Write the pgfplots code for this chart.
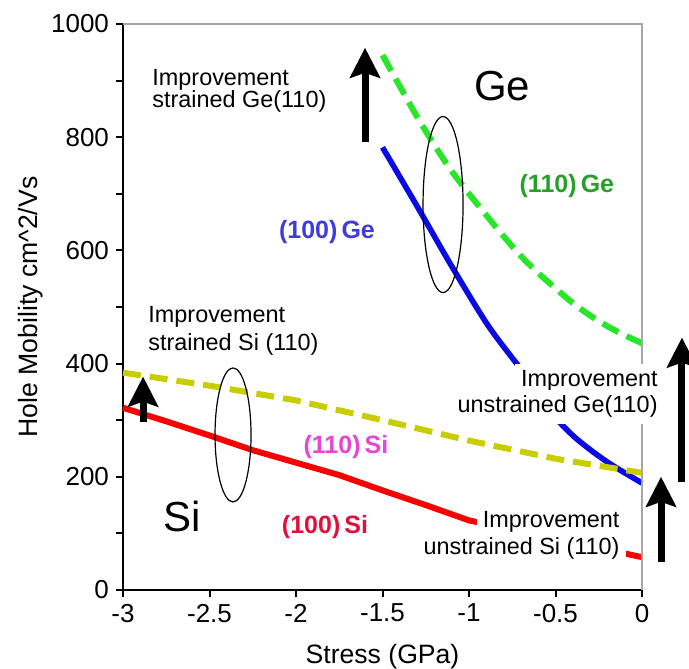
\documentclass[border=0pt]{standalone}
\usepackage{fontspec}
\setmainfont{Liberation Sans}
\usepackage{pgfplots}
\pgfplotsset{compat=1.18}
\usetikzlibrary{arrows.meta}

\definecolor{geline}{RGB}{40,230,40}
\definecolor{getext}{RGB}{40,160,40}
\definecolor{geblue}{RGB}{10,10,230}
\definecolor{getextblue}{RGB}{60,60,225}
\definecolor{siyellow}{RGB}{200,205,0}
\definecolor{sired}{RGB}{250,0,0}
\definecolor{simag}{RGB}{230,70,210}
\definecolor{sitext}{RGB}{225,15,60}

\tikzset{
  bigarrow/.style={line width=3.5pt, -{Stealth[width=15pt,length=15pt,inset=2.5pt]}},
  note/.style={font=\fontsize{11.7}{13}\selectfont, inner sep=0pt},
  notebox/.style={font=\fontsize{11.7}{13}\selectfont, fill=white, inner xsep=3pt, inner ysep=3pt},
  lbl/.style={font=\fontsize{12.5}{14}\selectfont\bfseries}
}

\begin{document}
\begin{tikzpicture}
\useasboundingbox (-61.5pt,-39pt) rectangle (283pt,295pt);
\begin{axis}[
  at={(0,0)}, anchor=south west,
  scale only axis, width=259.5pt, height=283pt,
  xmin=-3, xmax=0, ymin=0, ymax=1000,
  clip=false,
  axis x line*=bottom, axis y line*=left,
  axis line style={-, black, line width=1.1pt},
  tick align=outside,
  major tick length=3.5pt, minor tick length=3.5pt,
  tick style={black, line width=1pt},
  xtick={-3,-2.5,-2,-1.5,-1,-0.5,0},
  xticklabels={-3,-2.5,-2,-1.5,-1,-0.5,0},
  ytick={0,200,400,600,800,1000},
  yticklabels={0,200,400,600,800,1000},
  minor y tick num=1,
  ticklabel style={font=\fontsize{13}{15}\selectfont},
  xlabel={Stress (GPa)},
  ylabel={Hole Mobility cm\textasciicircum 2/Vs},
  label style={font=\fontsize{13.3}{15}\selectfont},
  xlabel style={at={(axis description cs:0.5,-0.129)}, anchor=base},
  ylabel style={at={(axis description cs:-0.1657,0.5)}, anchor=base},
]
% (110) Ge
\addplot[geline, line width=3pt, dash pattern=on 9pt off 4.5pt, smooth] coordinates {
  (-1.5,945) (-1.4,890) (-1.3,836) (-1.2,786) (-1.1,740) (-1.0,700)
  (-0.9,662) (-0.8,625) (-0.7,590) (-0.6,560) (-0.5,533) (-0.4,507)
  (-0.3,485) (-0.2,466) (-0.1,450) (0,436)};
% (100) Ge
\addplot[geblue, line width=2.8pt, smooth] coordinates {
  (-1.5,782) (-1.3,678) (-1.1,572) (-0.9,472) (-0.75,410) (-0.6,352)
  (-0.5,305) (-0.4,273) (-0.3,248) (-0.2,226) (-0.1,207) (0,189)};
% (110) Si
\addplot[siyellow, line width=3pt, dash pattern=on 9pt off 4.5pt] coordinates {
  (-3,384) (-2.5,361) (-2,335) (-1.5,300) (-1,264) (-0.5,232) (0,207)};
% (100) Si
\addplot[sired, line width=3pt] coordinates {
  (-3,322) (-2.75,298) (-2.5,273) (-2.25,247) (-2,225) (-1.75,203)
  (-1.5,176) (-1.25,150) (-1,123) (0,58)};

\draw[gray!70, line width=0.6pt] (rel axis cs:0,1) -- (rel axis cs:1,1) -- (rel axis cs:1,0);

% labels hiding the lines behind them
\node[notebox, anchor=base east] at (axis cs:0.127,360) {Improvement};
\node[notebox, anchor=base east] at (axis cs:0.127,313) {unstrained Ge(110)};
\node[notebox, anchor=base east] at (axis cs:-0.093,111) {Improvement};
\node[notebox, anchor=base east] at (axis cs:-0.093,62) {unstrained Si (110)};

\node[note, anchor=base west] at (axis cs:-2.832,892) {Improvement};
\node[note, anchor=base west] at (axis cs:-2.832,853) {strained Ge(110)};
\node[note, anchor=base west] at (axis cs:-2.855,473) {Improvement};
\node[note, anchor=base west] at (axis cs:-2.855,424) {strained Si (110)};

\node[font=\fontsize{21}{24}\selectfont] at (axis cs:-0.809,890) {Ge};
\node[font=\fontsize{21}{24}\selectfont] at (axis cs:-2.659,129) {Si};

\node[lbl, text=getext] at (axis cs:-0.434,713) {(110)\,Ge};
\node[lbl, text=getextblue] at (axis cs:-1.821,633) {(100)\,Ge};
\node[lbl, text=simag] at (axis cs:-1.711,253) {(110)\,Si};
\node[lbl, text=sitext] at (axis cs:-1.832,111) {(100)\,Si};

\draw[line width=0.6pt] (axis cs:-1.15,681) ellipse [x radius=10pt, y radius=44pt];
\draw[line width=0.6pt] (axis cs:-2.364,274) ellipse [x radius=9pt, y radius=33.5pt];

\draw[bigarrow] (axis cs:-1.601,791) -- (axis cs:-1.601,958);
\draw[bigarrow] (axis cs:-2.884,297) -- (axis cs:-2.884,377);
\draw[bigarrow] (axis cs:0.231,191) -- (axis cs:0.231,446);
\draw[bigarrow] (axis cs:0.110,50) -- (axis cs:0.110,200);
\end{axis}
\end{tikzpicture}
\end{document}
